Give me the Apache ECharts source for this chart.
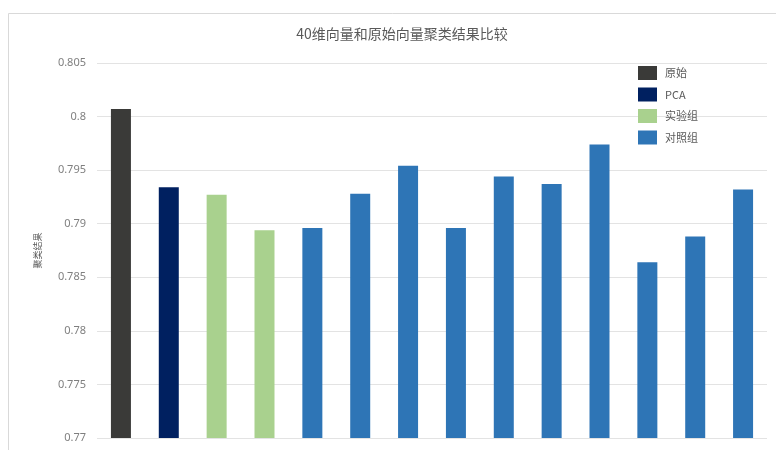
<!DOCTYPE html>
<html>
<head>
<meta charset="utf-8">
<script src="https://cdn.jsdelivr.net/npm/echarts@6/dist/echarts.min.js"></script>
<style>
  html, body { margin: 0; padding: 0; background: #fff; }
  #chart { width: 776px; height: 450px; }
</style>
</head>
<body>
<div id="chart"></div>
<script>
// 14 bars, left to right
const categories = ['原始', 'PCA', '实验组1', '实验组2',
  '对照组1', '对照组2', '对照组3', '对照组4', '对照组5',
  '对照组6', '对照组7', '对照组8', '对照组9', '对照组10'];

const originalValues = [0.8007];
const pcaValues = [0.7934];
const experimentValues = [0.7927, 0.7894];
const controlValues = [0.7896, 0.7928, 0.7954, 0.7896, 0.7944, 0.7937,
  0.7974, 0.7864, 0.7888, 0.7932];

const yTicks = { min: 0.77, max: 0.805, interval: 0.005 };

// place each group's values at its own slots, null elsewhere
function placeAt(values, offset) {
  const out = categories.map(() => null);
  values.forEach((v, i) => { out[offset + i] = v; });
  return out;
}

const chart = echarts.init(document.getElementById('chart'), null, { renderer: 'canvas' });

const barBase = { type: 'bar', barWidth: 20, barGap: '-100%' };

const option = {
  backgroundColor: '#fff',
  animation: false,
  title: {
    text: '40维向量和原始向量聚类结果比较',
    left: 397,
    textAlign: 'center',
    top: 22,
    textStyle: { fontSize: 14, fontWeight: 'normal', color: '#595959',
      fontFamily: 'Noto Sans CJK SC' }
  },
  legend: {
    orient: 'vertical',
    left: 633,
    top: 61,
    itemWidth: 19,
    itemHeight: 14,
    itemGap: 7.5,
    icon: 'rect',
    textStyle: { fontSize: 11, color: '#595959', padding: [0, 0, 0, 3],
      fontFamily: 'Noto Sans CJK SC' },
    data: ['原始', 'PCA', '实验组', '对照组']
  },
  graphic: [{
    type: 'rect',
    shape: { x: 8.5, y: 13.5, width: 800, height: 500 },
    style: { fill: 'none', stroke: '#d9d9d9', lineWidth: 1 },
    silent: true
  }],
  grid: { left: 97, right: 9, top: 63, bottom: 12 },
  xAxis: {
    type: 'category',
    data: categories,
    axisLine: { show: false },
    axisTick: { show: false },
    axisLabel: { show: false }
  },
  yAxis: {
    type: 'value',
    min: yTicks.min,
    max: yTicks.max,
    interval: yTicks.interval,
    name: '聚类结果',
    nameLocation: 'middle',
    nameGap: 55,
    nameTextStyle: { fontSize: 9, color: '#595959', fontFamily: 'Noto Sans CJK SC' },
    axisLine: { show: false },
    axisTick: { show: false },
    axisLabel: { fontSize: 11, color: '#7f7f7f', margin: 11,
      fontFamily: 'Noto Sans' },
    splitLine: { lineStyle: { color: '#e3e3e3', width: 1 } }
  },
  series: [
    Object.assign({ name: '原始', itemStyle: { color: '#3a3a38' },
      data: placeAt(originalValues, 0) }, barBase),
    Object.assign({ name: 'PCA', itemStyle: { color: '#002060' },
      data: placeAt(pcaValues, 1) }, barBase),
    Object.assign({ name: '实验组', itemStyle: { color: '#a9d18e' },
      data: placeAt(experimentValues, 2) }, barBase),
    Object.assign({ name: '对照组', itemStyle: { color: '#2e75b6' },
      data: placeAt(controlValues, 4) }, barBase)
  ]
};

chart.setOption(option);
</script>
</body>
</html>
